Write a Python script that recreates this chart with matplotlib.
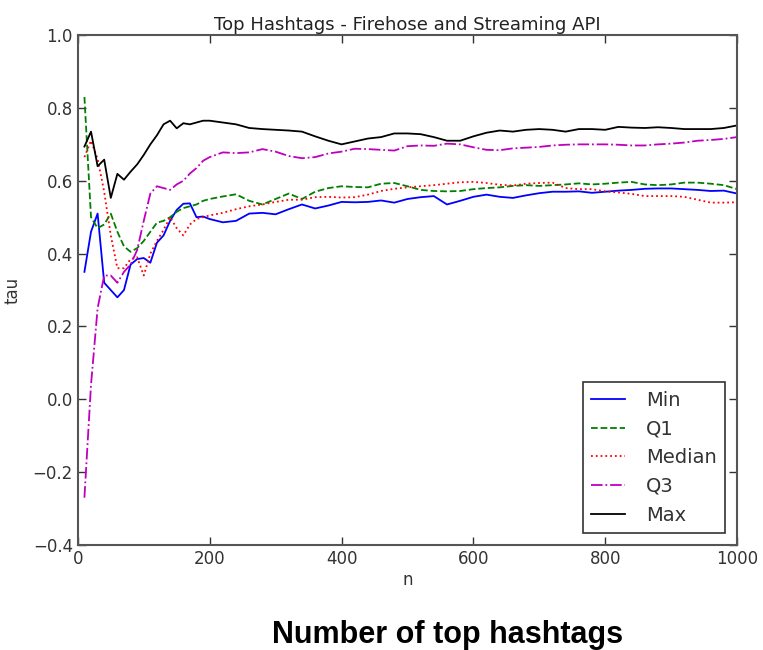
import matplotlib
matplotlib.use("Agg")
import matplotlib.pyplot as plt

n = [10, 20, 30, 40, 50, 60, 70, 80, 90, 100, 110, 120, 130, 140, 150, 160, 170, 180, 190, 200,
     220, 240, 260, 280, 300, 320, 340, 360, 380, 400, 420, 440, 460, 480, 500, 520, 540, 560, 580, 600,
     620, 640, 660, 680, 700, 720, 740, 760, 780, 800, 820, 840, 860, 880, 900, 920, 940, 960, 980, 1000]

tau_min = [0.35, 0.46, 0.51, 0.32, 0.30, 0.28, 0.30, 0.37, 0.385, 0.388, 0.375, 0.43, 0.45, 0.49, 0.52, 0.537, 0.538, 0.50, 0.502, 0.495,
           0.486, 0.49, 0.51, 0.512, 0.508, 0.522, 0.535, 0.524, 0.532, 0.542, 0.541, 0.542, 0.546, 0.54, 0.55, 0.555, 0.558, 0.535, 0.545, 0.556,
           0.562, 0.556, 0.553, 0.56, 0.566, 0.57, 0.57, 0.571, 0.567, 0.57, 0.573, 0.575, 0.578, 0.579, 0.579, 0.577, 0.575, 0.572, 0.573, 0.565]

tau_q1 = [0.83, 0.50, 0.47, 0.48, 0.51, 0.46, 0.42, 0.405, 0.415, 0.435, 0.46, 0.485, 0.49, 0.50, 0.515, 0.525, 0.53, 0.535, 0.545, 0.55,
          0.557, 0.563, 0.545, 0.535, 0.55, 0.565, 0.55, 0.57, 0.58, 0.585, 0.583, 0.582, 0.592, 0.594, 0.585, 0.575, 0.572, 0.571, 0.572, 0.577,
          0.58, 0.582, 0.586, 0.588, 0.586, 0.588, 0.59, 0.593, 0.59, 0.592, 0.595, 0.597, 0.59, 0.588, 0.59, 0.595, 0.595, 0.592, 0.588, 0.577]

tau_median = [0.665, 0.71, 0.66, 0.57, 0.45, 0.36, 0.36, 0.385, 0.39, 0.34, 0.40, 0.435, 0.465, 0.50, 0.47, 0.45, 0.48, 0.495, 0.50, 0.505,
              0.512, 0.522, 0.53, 0.535, 0.542, 0.548, 0.548, 0.555, 0.556, 0.554, 0.555, 0.562, 0.572, 0.578, 0.582, 0.585, 0.588, 0.592, 0.596, 0.597,
              0.594, 0.589, 0.587, 0.592, 0.594, 0.595, 0.58, 0.577, 0.577, 0.571, 0.568, 0.564, 0.558, 0.558, 0.558, 0.556, 0.548, 0.54, 0.54, 0.541]

tau_q3 = [-0.27, 0.04, 0.25, 0.34, 0.34, 0.32, 0.35, 0.37, 0.41, 0.49, 0.565, 0.585, 0.58, 0.575, 0.59, 0.60, 0.62, 0.635, 0.655, 0.665,
          0.678, 0.676, 0.678, 0.687, 0.68, 0.668, 0.662, 0.665, 0.675, 0.68, 0.688, 0.687, 0.685, 0.683, 0.695, 0.697, 0.696, 0.702, 0.70, 0.692,
          0.685, 0.684, 0.689, 0.691, 0.693, 0.697, 0.699, 0.70, 0.70, 0.70, 0.699, 0.697, 0.697, 0.70, 0.702, 0.705, 0.71, 0.712, 0.715, 0.72]

tau_max = [0.694, 0.735, 0.64, 0.658, 0.553, 0.619, 0.603, 0.625, 0.645, 0.671, 0.70, 0.725, 0.755, 0.765, 0.744, 0.758, 0.755, 0.76, 0.765, 0.765,
           0.76, 0.755, 0.745, 0.742, 0.74, 0.738, 0.735, 0.722, 0.71, 0.70, 0.708, 0.716, 0.72, 0.73, 0.73, 0.728, 0.72, 0.71, 0.71, 0.722,
           0.732, 0.738, 0.735, 0.74, 0.742, 0.74, 0.735, 0.742, 0.742, 0.74, 0.748, 0.746, 0.745, 0.747, 0.745, 0.742, 0.742, 0.742, 0.745, 0.752]

labels = ["Min", "Q1", "Median", "Q3", "Max"]

plt.rcParams['font.family'] = ['DejaVu Sans']
fig = plt.figure(figsize=(7.63, 6.5), dpi=100)
ax = fig.add_axes([0.102, 0.1615, 0.864, 0.7845])

ax.plot(n, tau_min, color='b', linestyle='-', lw=1.3, label=labels[0])
ax.plot(n, tau_q1, color='g', linestyle='--', lw=1.3, label=labels[1])
ax.plot(n, tau_median, color='r', linestyle=':', lw=1.3, label=labels[2])
ax.plot(n, tau_q3, color='m', linestyle='-.', lw=1.3, label=labels[3])
ax.plot(n, tau_max, color='k', linestyle='-', lw=1.3, label=labels[4])

ax.set_xlim(0, 1000)
ax.set_ylim(-0.4, 1.0)
ax.set_xticks([0, 200, 400, 600, 800, 1000])
ax.set_yticks([-0.4, -0.2, 0.0, 0.2, 0.4, 0.6, 0.8, 1.0])
ax.tick_params(direction='in', top=True, right=True, length=6, width=1, labelsize=12, colors='#333333')
for s in ax.spines.values():
    s.set_color('#555555')
    s.set_linewidth(1.5)

ax.set_title("Top Hashtags - Firehose and Streaming API", fontsize=13, color='#222222', pad=4)
ax.set_xlabel("n", fontsize=12, color='#333333', labelpad=2)
ax.set_ylabel("tau", fontsize=12, color='#333333', labelpad=8)

leg = ax.legend(loc='lower right', fontsize=14, fancybox=False, framealpha=1,
                edgecolor='#333333', handlelength=1.7, handletextpad=1.1,
                borderpad=0.45, labelspacing=0.5, borderaxespad=0.6)
leg.get_frame().set_linewidth(1.2)
for t in leg.get_texts():
    t.set_color('#333333')

fig.text(0.5865, 0.0108, "Number of top hashtags", fontsize=22, fontweight='bold',
         family=['Liberation Sans', 'DejaVu Sans'], ha='center', va='baseline')

fig.savefig("out.png", dpi=100)
